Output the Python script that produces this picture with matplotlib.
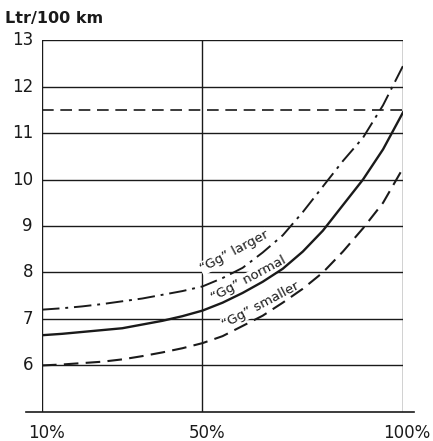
import matplotlib
matplotlib.use("Agg")
import matplotlib.pyplot as plt

# Data
load_pct = [10, 15, 20, 25, 30, 35, 40, 45, 50, 55, 60, 65, 70, 75, 80, 85, 90, 95, 100]
gg_larger = [7.2, 7.23, 7.27, 7.32, 7.38, 7.44, 7.52, 7.6, 7.7, 7.88, 8.1, 8.43,
             8.8, 9.3, 9.85, 10.4, 10.9, 11.6, 12.45]
gg_normal = [6.65, 6.68, 6.72, 6.76, 6.8, 6.88, 6.96, 7.06, 7.18, 7.35, 7.56, 7.8,
             8.08, 8.45, 8.9, 9.45, 10.0, 10.65, 11.45]
gg_smaller = [6.0, 6.02, 6.05, 6.08, 6.13, 6.2, 6.28, 6.37, 6.48, 6.63, 6.85, 7.07,
              7.35, 7.65, 8.0, 8.45, 8.95, 9.5, 10.25]
reference_level = 11.5
y_grid = [6, 7, 8, 9, 10, 11, 12, 13]
y_tick_labels = ["6", "7", "8", "9", "10", "11", "12", "13"]
x_grid = [10, 50, 100]
x_tick_labels = ["10%", "50%", "100%"]
y_label = "Ltr/100 km"
curve_labels = ["\u201cGg\u201d larger", "\u201cGg\u201d normal", "\u201cGg\u201d smaller"]

ink = "#1a1a1a"
fig = plt.figure(figsize=(4.33, 4.41), dpi=100)
ax = fig.add_axes([0.097, 0.066, 0.834, 0.843])
ax.set_xlim(10, 100)
ax.set_ylim(5, 13)
for s in ax.spines.values():
    s.set_visible(False)
ax.set_xticks([])
ax.set_yticks([])

for y in y_grid:
    ax.axhline(y, color=ink, lw=1.0, zorder=1)
for x in x_grid:
    ax.axvline(x, color=ink, lw=1.0, zorder=1)
ax.plot([-0.045, 1.03], [0, 0], transform=ax.transAxes, color=ink, lw=1.2, clip_on=False)

ax.axhline(reference_level, color=ink, lw=1.2, dashes=(7, 4), zorder=2)

ax.plot(load_pct, gg_larger, color=ink, lw=1.4, dashes=(9, 3, 1.5, 3), zorder=3)
ax.plot(load_pct, gg_normal, color=ink, lw=1.7, zorder=3)
ax.plot(load_pct, gg_smaller, color=ink, lw=1.5, dashes=(7, 3.5), zorder=3)

fs_lab = 9.5
box = dict(facecolor="white", edgecolor="none", pad=0.3)
label_pos = [(50.0, 8.0), (52.8, 7.37), (55.6, 6.8)]
for (lx, ly), lab in zip(label_pos, curve_labels):
    ax.text(lx, ly, lab, fontsize=fs_lab, rotation=28, ha="left", va="baseline",
            color=ink, bbox=box, zorder=2.5, rotation_mode="anchor")

for y, lab in zip(y_grid, y_tick_labels):
    ax.text(-0.025, (y - 5) / 8, lab, transform=ax.transAxes, ha="right", va="center",
            fontsize=12, color=ink)
xoff = [1.0, 1.2, 0.8]
for x, lab, o in zip(x_grid, x_tick_labels, xoff):
    ax.text(x + o, 4.75, lab, ha="center", va="top", fontsize=12, color=ink)

fig.text(0.012, 0.94, y_label, ha="left", va="bottom", fontsize=11.5, color=ink,
         fontweight="bold")

fig.savefig("out.png", dpi=100)
